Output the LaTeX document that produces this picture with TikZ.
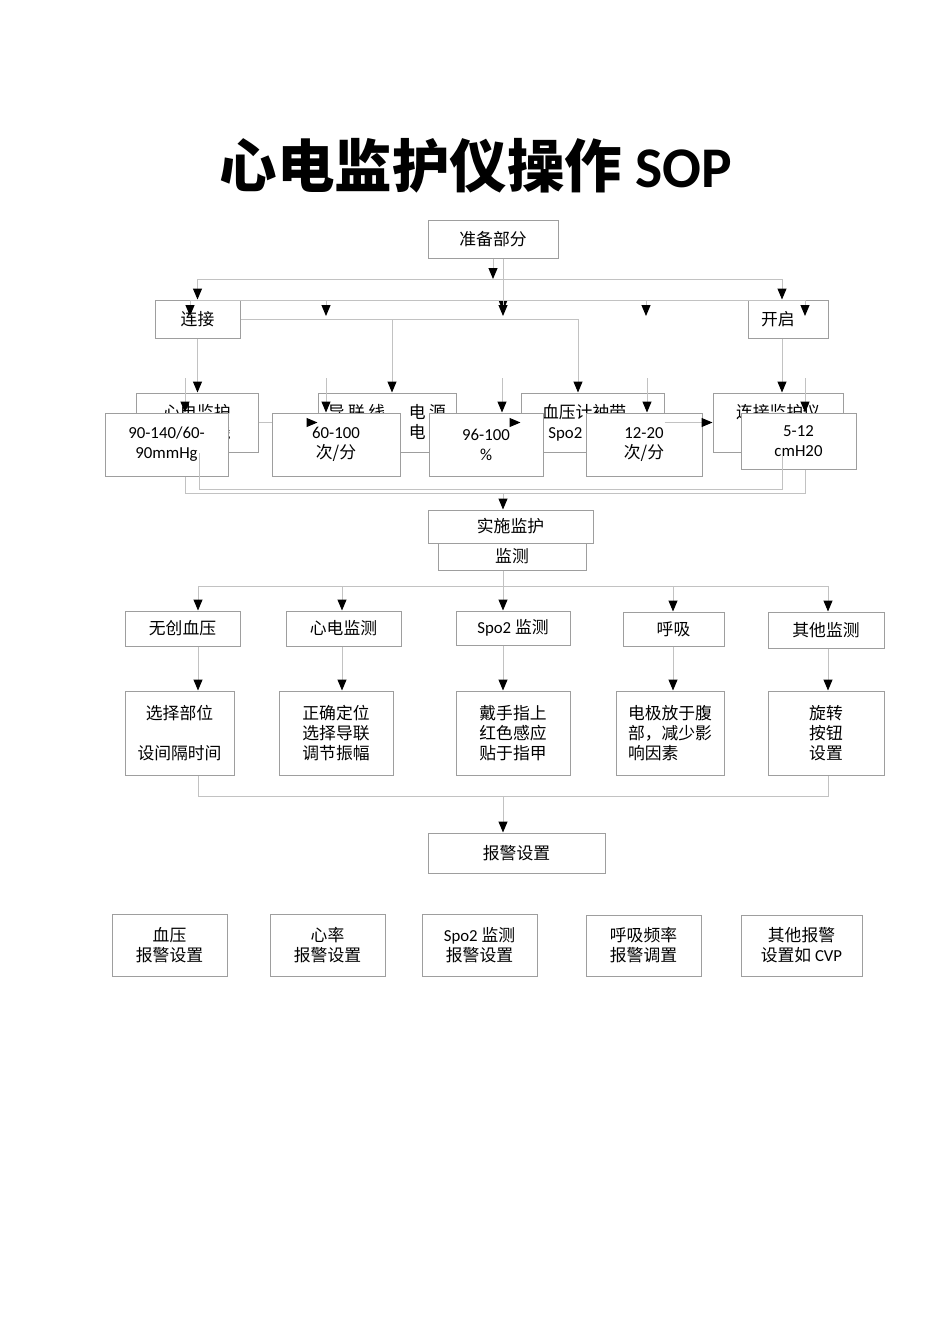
\documentclass[tikz,border=0pt]{standalone}
\usepackage{fontspec}
\setmainfont{Noto Sans CJK SC}
\newfontfamily\latinfont{Carlito}
\newcommand{\en}[1]{{\latinfont #1}}
\usetikzlibrary{arrows.meta}
\definecolor{boxgray}{gray}{0.62}
\definecolor{linegray}{gray}{0.76}
\tikzset{
  flowbox/.style={draw=boxgray, line width=1pt, fill=white, align=center, inner sep=2pt,
    font=\fontsize{16.8}{20}\selectfont},
  flowline/.style={draw=linegray, line width=1pt},
  flowarrow/.style={flowline, -{Triangle[length=11pt,width=9pt,color=black]}},
}

\begin{document}
\begin{tikzpicture}[x=1pt,y=-1pt]
\path[fill=white] (0,0) rectangle (950,1344);
\useasboundingbox (0,0) rectangle (950,1344);

% title
\node[font=\fontsize{57.5}{60}\selectfont\bfseries] (title) at (476,166) {心电监护仪操作 \en{SOP}};

% preparation
\node[flowbox, minimum width=130pt, minimum height=38pt] (prep) at (493,239) {准备部分};
\node[flowbox, minimum width=85pt, minimum height=38pt] (conn) at (197.5,319) {连接};
\node[flowbox, minimum width=80pt, minimum height=38pt, text width=54pt, align=left, inner xsep=13pt] (start) at (788,319) {开启};

\coordinate (busA) at (0,279);
\coordinate (busB) at (0,300);
\coordinate (drop) at (503,311);
\draw[flowarrow] (prep.south) -- (prep.south |- busA);
\draw[flowline] (conn.north |- busA) -- ([xshift=-6pt]start.north |- busA);
\draw[flowarrow] (conn.north |- busA) -- (conn.north);
\draw[flowarrow] ([xshift=-6pt]start.north |- busA) -- ([xshift=-6pt]start.north);
\draw[flowarrow] ([xshift=10pt]prep.south) -- (drop);
\foreach \x [count=\i] in {190,326,503,646,805} {
  \coordinate (hang\i) at (\x,316);
  \draw[flowarrow] (hang\i |- busB) -- (hang\i);
}
\draw[flowline] (hang1 |- busB) -- (hang5 |- busB);

% connecting parts (behind)
\node[flowbox, minimum width=122pt, minimum height=59pt] (ecg) at (197,422.5) {心电监护\\仪电源线};
\node[flowbox, minimum width=138pt, minimum height=59pt] (lead) at (387,422.5)
  {\makebox[118pt][s]{导\hfill 联\hfill 线\hfill ，\hfill 电\hfill 源}\\\makebox[118pt][s]{电\hfill 源\hfill 线\hfill ，\hfill 电\hfill 极}};
\node[flowbox, minimum width=143pt, minimum height=59pt] (cuff) at (592.5,422.5) {血压计袖带、\\\en{Spo2} 传感器};
\node[flowbox, minimum width=130pt, minimum height=59pt] (link) at (778,422.5) {连接监护仪\\电源};

\coordinate (leadin) at (392,0);
\coordinate (cuffin) at (578,0);
\draw[flowline] (conn.east) -- (cuffin |- conn.east);
\draw[flowarrow] (leadin |- conn.east) -- (leadin |- lead.north);
\draw[flowarrow] (cuffin |- conn.east) -- (cuffin |- cuff.north);
\draw[flowarrow] (conn.south) -- (conn.south |- ecg.north);
\draw[flowarrow] ([xshift=-6pt]start.south) -- ([xshift=-6pt]start.south |- link.north);
\draw[flowline] (ecg.east) -- (lead.west);
\draw[flowline] (lead.east) -- (cuff.west);

% normal values (front)
\node[flowbox, minimum width=123pt, minimum height=63pt] (bp) at (166.5,444.5) {\en{90-140/60-}\\\en{90mmHg}};
\node[flowbox, minimum width=128pt, minimum height=63pt] (hr) at (336,444.5) {\en{60-100}\\次/分};
\node[flowbox, minimum width=114pt, minimum height=63pt] (spo) at (486,444.5) {\en{96-100}\\\en{\%}};
\node[flowbox, minimum width=116pt, minimum height=63pt] (rr) at (644,444.5) {\en{12-20}\\次/分};
\node[flowbox, minimum width=115pt, minimum height=56pt] (cvp) at (798.5,441) {\en{5-12}\\\en{cmH20}};

\foreach \x [count=\i] in {185,326,502,647,805} {
  \coordinate (top\i) at (\x,378);
  \draw[flowarrow] (top\i) -- (top\i |- bp.north);
}
\draw[flowarrow] ([xshift=-3pt]lead.west) -- (lead.west);
\draw[flowarrow] ([xshift=-3pt]cuff.west) -- (cuff.west);
\draw[flowarrow] (cuff.east) -- (link.west);

% monitoring
\node[flowbox, minimum width=148pt, minimum height=27pt] (mon) at (512,556.5) {监测};
\node[flowbox, minimum width=165pt, minimum height=33pt] (impl) at (510.5,526.5) {实施监护};

\coordinate (busC) at (0,489);
\coordinate (busD) at (0,493);
\coordinate (midx) at (503,0);
\draw[flowline] ([xshift=2pt]ecg.south) |- ([xshift=4pt]link.south |- busC) -- ([xshift=4pt]link.south);
\draw[flowline] ([xshift=18.5pt]bp.south) |- ([xshift=6.5pt]cvp.south |- busD) -- ([xshift=6.5pt]cvp.south);
\draw[flowarrow] (midx |- busD) -- (midx |- impl.north);

\node[flowbox, minimum width=115pt, minimum height=35pt] (nibp) at (182.5,628.5) {无创血压};
\node[flowbox, minimum width=115pt, minimum height=35pt] (ecgm) at (343.5,628.5) {心电监测};
\node[flowbox, minimum width=114pt, minimum height=34pt] (spom) at (513,628) {\en{Spo2} 监测};
\node[flowbox, minimum width=101pt, minimum height=34pt] (resp) at (673.5,629) {呼吸};
\node[flowbox, minimum width=116pt, minimum height=36pt] (other) at (826,630) {其他监测};

\node[flowbox, minimum width=109pt, minimum height=84pt] (site) at (179.5,733) {选择部位\\[20pt]设间隔时间};
\node[flowbox, minimum width=114pt, minimum height=84pt] (setup) at (336,733) {正确定位\\选择导联\\调节振幅};
\node[flowbox, minimum width=114pt, minimum height=84pt] (clip) at (513,733) {戴手指上\\红色感应\\贴于指甲};
\node[flowbox, minimum width=108pt, minimum height=84pt, align=left] (elec) at (670,733) {电极放于腹\\部，减少影\\响因素};
\node[flowbox, minimum width=116pt, minimum height=84pt] (knob) at (826,733) {旋转\\按钮\\设置};

\coordinate (busE) at (0,586);
\draw[flowline] (midx |- mon.south) -- (midx |- busE);
\foreach \a/\b/\x in {nibp/site/198, ecgm/setup/342, spom/clip/503, resp/elec/673, other/knob/828} {
  \coordinate (col) at (\x,0);
  \draw[flowarrow] (busE -| col) -- (\a.north -| col);
  \draw[flowarrow] (\a.south -| col) -- (\b.north -| col);
}
\coordinate (colL) at (198,0);
\coordinate (colR) at (828,0);
\draw[flowline] (busE -| colL) -- (busE -| colR);

% alarms
\node[flowbox, minimum width=177pt, minimum height=40pt] (alarm) at (516.5,853) {报警设置};
\coordinate (busF) at (503,796);
\draw[flowline] (site.south -| colL) |- (busF) -| (knob.south -| colR);
\draw[flowarrow] (busF) -- (busF |- alarm.north);

\node[flowbox, minimum width=115pt, minimum height=62pt] (abp) at (169.5,945) {血压\\报警设置};
\node[flowbox, minimum width=115pt, minimum height=62pt] (ahr) at (327.5,945) {心率\\报警设置};
\node[flowbox, minimum width=115pt, minimum height=62pt] (aspo) at (479.5,945) {\en{Spo2} 监测\\报警设置};
\node[flowbox, minimum width=115pt, minimum height=61pt] (arr) at (643.5,945.5) {呼吸频率\\报警调置};
\node[flowbox, minimum width=121pt, minimum height=61pt] (aoth) at (801.5,945.5) {其他报警\\设置如 \en{CVP}};
\end{tikzpicture}
\end{document}
